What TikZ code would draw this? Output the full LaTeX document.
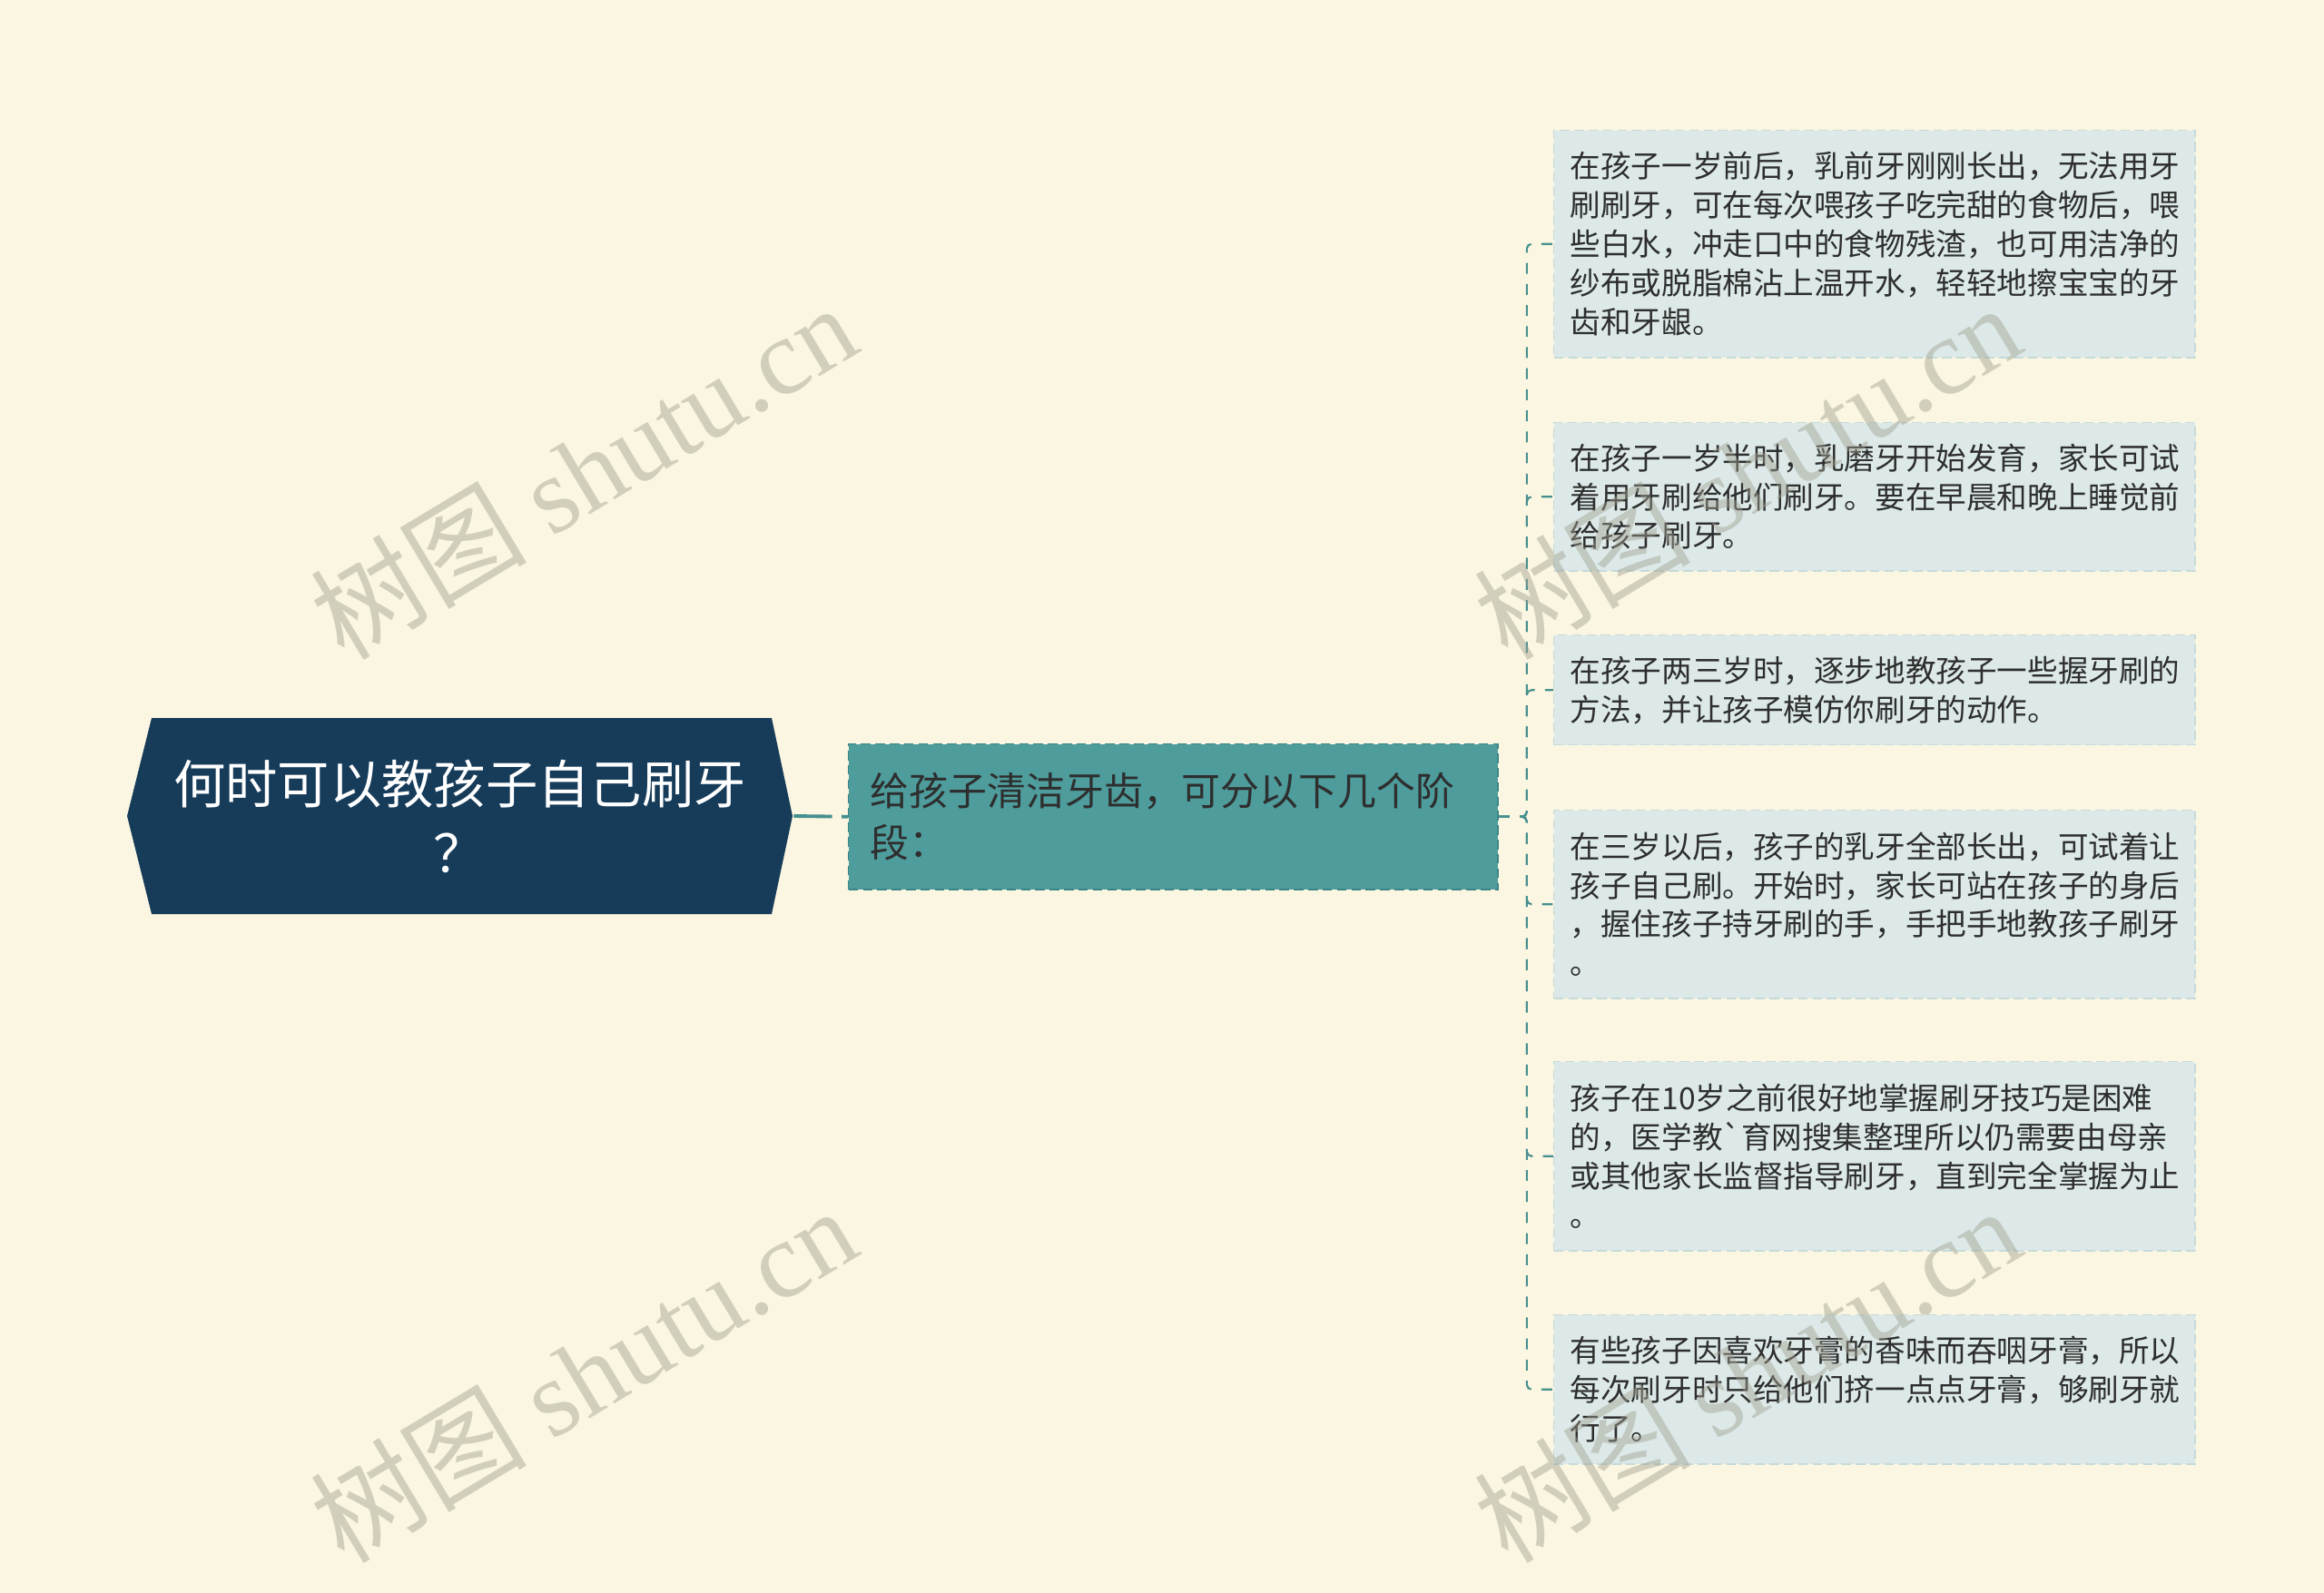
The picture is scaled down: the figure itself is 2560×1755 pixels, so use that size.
\documentclass[tikz,border=0pt]{standalone}
\usepackage{fontspec}
\setmainfont{Noto Sans CJK SC}
\newfontfamily\marklatin{Liberation Serif}

\definecolor{paper}{HTML}{FBF6E1}
\definecolor{rootbg}{HTML}{173C5A}
\definecolor{introbg}{HTML}{4E9C9C}
\definecolor{introline}{HTML}{3B8585}
\definecolor{tipbg}{HTML}{DCE9E8}
\definecolor{tipline}{HTML}{C6DADA}
\definecolor{linkteal}{HTML}{468F8F}
\definecolor{ink}{HTML}{2E2E2E}
\definecolor{markgray}{RGB}{160,160,145}

\begin{document}
\begin{tikzpicture}[x=0.01cm,y=-0.01cm,
    rootnode/.style={text=white,font=\fontsize{16.3}{21.6}\selectfont,align=center,
                     minimum width=7.34cm,minimum height=2.16cm,inner sep=0pt},
    intronode/.style={rectangle,fill=introbg,draw=introline,dash pattern=on 3pt off 1.5pt,
                      text=ink,font=\fontsize{12.2}{16.2}\selectfont,align=left,
                      text width=6.67cm,inner xsep=0.24cm,inner ysep=0pt,anchor=north west},
    tipnode/.style={rectangle,fill=tipbg,draw=tipline,dash pattern=on 3pt off 1.5pt,
                    text=ink,font=\fontsize{9.55}{12.2}\selectfont,align=left,
                    text width=6.7cm,inner xsep=0.18cm,inner ysep=0pt,anchor=north west},
    mainlink/.style={draw=linkteal,line width=1.1pt,dash pattern=on 12pt off 3pt},
    branch/.style={draw=linkteal,line width=0.6pt,dash pattern=on 3.4pt off 3.2pt,rounded corners=1.5pt},
    wmark/.style={text=markgray,opacity=0.45,rotate=31,font=\fontsize{34}{34}\selectfont}
    ]

    % The canvas
    \fill[paper] (0,0) rectangle (2560,1755);
    \useasboundingbox (0,0) rectangle (2560,1755);

    % The root
    \fill[rootbg] (167,791) -- (850,791) -- (873,899) -- (850,1007) -- (167,1007) -- (140,899) -- cycle;
    \node[rootnode] (root) at (506.5,899) {何时可以教孩子自己刷牙\\？};

    % The middle node
    \node[intronode,minimum height=1.6cm] (intro) at (934,819)
        {给孩子清洁牙齿，可分以下几个阶\\段：};

    % The tips
    \node[tipnode,minimum height=2.5cm] (tip1) at (1711,143)
        {在孩子一岁前后，乳前牙刚刚长出，无法用牙\\
         刷刷牙，可在每次喂孩子吃完甜的食物后，喂\\
         些白水，冲走口中的食物残渣，也可用洁净的\\
         纱布或脱脂棉沾上温开水，轻轻地擦宝宝的牙\\
         齿和牙龈。};
    \node[tipnode,minimum height=1.63cm] (tip2) at (1711,465)
        {在孩子一岁半时，乳磨牙开始发育，家长可试\\
         着用牙刷给他们刷牙。要在早晨和晚上睡觉前\\
         给孩子刷牙。};
    \node[tipnode,minimum height=1.21cm] (tip3) at (1711,699)
        {在孩子两三岁时，逐步地教孩子一些握牙刷的\\
         方法，并让孩子模仿你刷牙的动作。};
    \node[tipnode,minimum height=2.07cm] (tip4) at (1711,892)
        {在三岁以后，孩子的乳牙全部长出，可试着让\\
         孩子自己刷。开始时，家长可站在孩子的身后\\
         ，握住孩子持牙刷的手，手把手地教孩子刷牙\\
         。};
    \node[tipnode,minimum height=2.08cm] (tip5) at (1711,1169)
        {孩子在10岁之前很好地掌握刷牙技巧是困难\\
         的，医学教\textasciigrave 育网搜集整理所以仍需要由母亲\\
         或其他家长监督指导刷牙，直到完全掌握为止\\
         。};
    \node[tipnode,minimum height=1.64cm] (tip6) at (1711,1448)
        {有些孩子因喜欢牙膏的香味而吞咽牙膏，所以\\
         每次刷牙时只给他们挤一点点牙膏，够刷牙就\\
         行了。};

    % The links
    \draw[mainlink] (root.east) -- (intro.west);
    \foreach \n in {1,...,6}
        \draw[branch] (intro.east) -- ++(31,0) |- (tip\n.west);

    % The watermarks
    \node[wmark] (mark1) at (642,519) {树图 {\marklatin shutu.cn}};
    \node[wmark] (mark2) at (1924,519) {树图 {\marklatin shutu.cn}};
    \node[wmark] (mark3) at (642,1514) {树图 {\marklatin shutu.cn}};
    \node[wmark] (mark4) at (1924,1514) {树图 {\marklatin shutu.cn}};
\end{tikzpicture}
\end{document}
